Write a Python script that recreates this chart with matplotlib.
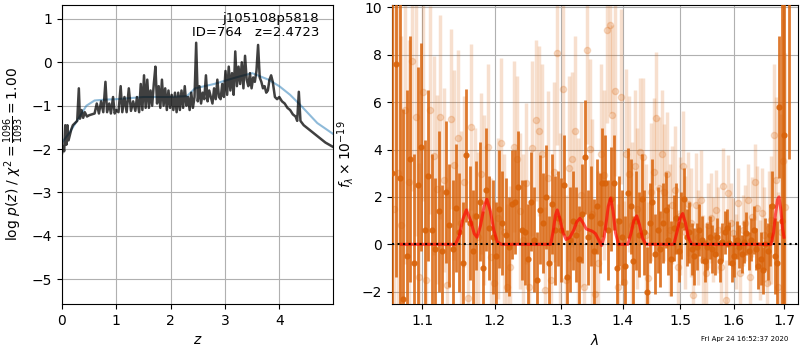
import numpy as np
import matplotlib
matplotlib.use('Agg')
import matplotlib.pyplot as plt
from matplotlib.ticker import NullLocator

# --- redshift fit: log p(z) ---
z_grid = [0.00, 0.02, 0.04, 0.06, 0.08, 0.10, 0.12, 0.14, 0.17, 0.20, 0.24, 0.28, 0.31, 0.33,
          0.36, 0.39, 0.42, 0.46, 0.50, 0.55, 0.60, 0.64, 0.68, 0.72, 0.76, 0.80, 0.83, 0.87,
          0.90, 0.94, 0.97, 1.00, 1.04, 1.08, 1.11, 1.15, 1.19, 1.23, 1.27, 1.31, 1.35, 1.38,
          1.42, 1.45, 1.48, 1.51, 1.54, 1.57, 1.60, 1.63, 1.66, 1.69, 1.72, 1.75, 1.78, 1.81,
          1.84, 1.87, 1.90, 1.93, 1.96, 1.99, 2.02, 2.05, 2.08, 2.11, 2.14, 2.17, 2.20, 2.23,
          2.26, 2.29, 2.32, 2.35, 2.38, 2.41, 2.44, 2.47, 2.50, 2.53, 2.56, 2.59, 2.62, 2.65,
          2.68, 2.71, 2.74, 2.77, 2.80, 2.83, 2.86, 2.89, 2.92, 2.95, 2.98, 3.01, 3.04, 3.07,
          3.10, 3.13, 3.16, 3.19, 3.22, 3.25, 3.28, 3.31, 3.34, 3.37, 3.40, 3.43, 3.46, 3.49,
          3.52, 3.55, 3.58, 3.61, 3.64, 3.67, 3.70, 3.73, 3.76, 3.79, 3.82, 3.85, 3.88, 3.92,
          3.96, 4.00, 4.05, 4.10, 4.15, 4.20, 4.25, 4.30, 4.33, 4.36, 4.39, 4.45, 4.55, 4.65,
          4.75, 4.85, 4.99]
logp = [-2.10, -1.95, -2.05, -1.45, -1.90, -1.45, -1.80, -1.70, -1.55, -1.45, -1.40, -1.35, -0.60, -1.30,
        -1.10, -1.28, -1.15, -1.25, -1.22, -1.20, -1.18, -0.95, -1.18, -0.90, -1.15, -0.45, -1.15, -0.95,
        -1.18, -0.80, -1.18, -1.10, -1.15, -0.55, -1.15, -0.80, -1.15, -0.60, -1.12, -0.90, -1.12, -0.80,
        -1.15, -0.50, -1.10, -0.30, -1.05, -0.40, -1.05, -0.65, -1.00, -0.50, -0.10, -0.95, -0.55, -1.05,
        -0.40, -1.00, -0.60, -1.10, -0.65, -1.05, -0.75, -1.10, -0.70, -1.15, -0.70, -1.10, -0.65, -1.05,
        -0.55, -1.00, -0.80, -1.10, -0.70, -1.05, -0.80, 0.45, -0.90, -0.55, -0.95, -0.70, -0.85, -0.30,
        -0.90, -0.65, -0.80, -0.95, -0.60, -0.85, -0.40, -0.80, -0.85, -0.50, -0.80, -0.20, -0.75, -0.10,
        -0.65, -0.25, -0.75, 0.25, -0.55, -0.10, -0.50, 0.00, -0.60, 0.15, -0.40, -0.55, -0.25, -0.60,
        -0.35, -0.45, -0.20, 0.40, -0.35, -0.45, -0.60, -0.55, -0.70, -0.65, -0.40, -0.30, -0.45, -0.80,
        -0.85, -0.80, -0.90, -0.95, -1.05, -1.10, -1.20, -1.25, -1.35, -0.68, -1.35, -1.45, -1.55, -1.65,
        -1.75, -1.85, -1.95]

z_prior = [0.00, 0.15, 0.30, 0.45, 0.60, 0.80, 1.00, 1.50, 2.00, 2.30, 2.45, 2.80, 3.20, 3.50,
           3.80, 4.00, 4.20, 4.40, 4.70, 4.99]
logp_prior = [-1.85, -1.60, -1.30, -1.00, -0.88, -0.86, -0.85, -0.80, -0.80, -0.78, -0.60, -0.50,
              -0.35, -0.25, -0.40, -0.55, -0.75, -1.00, -1.40, -1.65]

# --- 1D spectrum (flux in 1e-19 units), two extractions ---
wave_start, wave_step = 1.061, 0.0047
flux_a = [3.0, 7.6, 2.8, -2.3, -0.5, 3.6, -0.8, 2.5, 4.1, 0.6,
          2.9, 0.6, -0.2, 1.4, -0.3, 2.2, 0.8, -0.2, 1.55, 0.5,
          -0.8, 3.75, 0.9, -0.3, 1.2, 1.8, -1.0, 2.3, 0.7, 0.3,
          -0.5, 1.5, 0.9, 0.4, -0.1, 1.7, 1.8, 2.4, 0.6, 0.5,
          -0.6, 1.8, 0.2, -1.5, 1.45, 0.9, 2.0, -0.8, 1.7, 0.6,
          1.1, 0.6, 2.5, -1.4, 0.2, 1.0, 0.4, -0.6, 1.3, 3.7,
          0.3, 1.2, -0.3, 1.6, 0.9, 2.6, 2.6, 0.6, 1.9, 2.6,
          -1.0, 1.0, 0.3, -0.9, 2.15, 1.6, -0.7, 1.0, 0.4, 1.9,
          0.5, -2.0, 0.9, 1.8, -0.4, 0.6, -0.2, 0.9, 1.45, 0.2,
          -0.6, 0.7, 1.1, -0.3, 0.8, 1.9, 0.3, 0.5, -0.2, -0.5,
          -0.1, 0.6, 0.2, -0.7, -0.1, 0.3, -0.2, -0.4, 0.3, -0.7,
          0.1, 0.5, 0.7, 0.04, -0.8, -0.5, 0.2, -0.1, -0.4, 0.1,
          0.46, -0.3, 0.2, 0.6, -0.2, -0.9, -0.6, -1.1, 0.0, -0.3,
          0.4, 1.6, -0.5, -0.8, 5.8, 1.0, 4.6, np.nan, 14.5]
err_a = [9.0, 9.0, 8.0, 8.0, 7.0, 5.2, 4.6, 5.0, 4.4, 3.8,
         3.6, 3.2, 3.0, 3.4, 2.8, 3.0, 2.6, 2.9, 2.7, 2.5,
         2.6, 2.8, 2.4, 2.6, 2.3, 2.5, 2.4, 2.6, 2.2, 2.4,
         2.3, 2.5, 2.2, 2.4, 2.1, 2.3, 2.2, 2.4, 2.1, 2.2,
         2.3, 2.1, 2.2, 2.0, 2.3, 2.1, 2.2, 2.0, 2.1, 2.3,
         2.0, 2.2, 2.1, 2.0, 2.2, 2.1, 2.0, 2.2, 2.1, 2.4,
         2.0, 2.1, 2.2, 2.0, 2.1, 2.3, 2.0, 2.1, 2.2, 2.0,
         2.1, 1.9, 2.0, 2.1, 1.9, 2.0, 1.9, 2.1, 1.8, 1.9,
         1.8, 1.9, 1.7, 1.8, 1.7, 1.8, 1.6, 1.7, 1.6, 1.5,
         1.6, 1.4, 1.5, 1.3, 1.4, 1.3, 1.2, 1.3, 1.1, 1.2,
         1.0, 1.1, 1.0, 0.9, 1.0, 0.9, 1.0, 0.9, 0.8, 0.9,
         0.8, 0.9, 0.8, 0.9, 0.8, 0.9, 0.8, 0.9, 0.8, 0.9,
         0.9, 0.8, 0.9, 1.0, 0.9, 1.0, 1.1, 1.0, 1.1, 1.2,
         1.3, 1.5, 1.6, 1.8, 3.0, 12.0, 9.0, np.nan, 10.9]

flux_b = [1.5, 3.0, 0.8, 5.67, 2.64, 7.73, 5.36, -1.37, 6.44, -1.5,
          5.67, 3.73, 2.32, 5.36, 2.71, -1.7, 5.29, 3.35, 4.5, 0.9,
          2.64, -2.25, 4.96, 1.2, 0.3, 2.97, 1.87, 4.12, -0.52, -1.65,
          1.1, 4.26, 0.5, -1.79, -0.94, 4.12, 3.59, 1.4, 0.2, 2.57,
          -1.79, 4.05, 5.24, 4.78, 3.81, -1.93, 2.78, -1.5, 3.06, 8.08,
          1.0, 6.54, -1.5, 3.2, 3.59, 4.78, 0.7, 2.1, -1.8, 8.22,
          4.02, 1.3, -2.1, -0.8, 3.81, 2.92, 9.04, 9.25, 5.46, 6.48,
          -1.79, 6.23, -1.57, 3.81, 2.97, 0.8, 3.32, 1.5, 3.91, 3.7,
          0.4, -1.43, 2.2, 3.06, 5.32, 2.36, 3.81, 2.19, 2.97, 0.6,
          1.66, 2.29, -0.94, 1.2, 3.32, 0.5, 1.7, 0.9, -2.14, 1.66,
          0.3, 1.87, -0.66, -1.22, 0.8, 1.1, 0.2, 1.45, 0.6, -0.94,
          2.46, -2.35, 2.15, 0.9, 0.46, -0.3, 1.73, -1.22, 0.6, 0.9,
          1.87, -1.36, 1.16, 2.64, 1.52, -0.66, 1.31, 0.4, -1.65, 0.7,
          1.03, 4.61, 2.71, -1.79, 0.5, 3.5, 1.59]
err_b = [9.0, 8.5, 8.0, 6.5, 6.0, 5.5, 5.0, 4.8, 4.6, 4.5,
         4.4, 4.2, 4.0, 4.3, 3.9, 4.1, 3.8, 4.0, 3.7, 3.9,
         3.6, 3.8, 3.5, 3.7, 3.6, 3.4, 3.6, 3.5, 3.3, 3.5,
         3.4, 3.6, 3.3, 3.5, 3.4, 3.6, 3.5, 3.3, 3.6, 3.4,
         3.5, 3.7, 3.4, 3.6, 3.8, 3.5, 3.7, 3.6, 3.8, 3.9,
         3.7, 3.8, 3.6, 3.9, 3.7, 4.0, 3.8, 3.9, 3.7, 4.0,
         3.8, 4.0, 3.7, 3.9, 3.8, 3.6, 3.9, 3.7, 3.8, 3.6,
         3.5, 3.7, 3.4, 3.6, 3.3, 3.5, 3.2, 3.4, 3.1, 3.3,
         3.0, 3.2, 2.9, 3.1, 2.8, 3.0, 2.7, 2.9, 2.6, 2.8,
         2.5, 2.7, 2.4, 2.5, 2.3, 2.4, 2.2, 2.3, 2.1, 2.2,
         2.0, 2.1, 1.9, 2.0, 1.8, 1.9, 1.8, 1.7, 1.8, 1.7,
         1.6, 1.7, 1.6, 1.7, 1.5, 1.6, 1.5, 1.6, 1.5, 1.6,
         1.5, 1.6, 1.7, 1.6, 1.8, 1.7, 1.9, 2.0, 2.2, 2.4,
         2.7, 3.0, 3.5, 4.0, 5.0, 6.0, 6.5]

model_wave = [1.073, 1.145, 1.150, 1.155, 1.160, 1.166, 1.171, 1.175, 1.180, 1.185, 1.189,
              1.194, 1.199, 1.204, 1.210, 1.284, 1.288, 1.291, 1.294, 1.298, 1.303, 1.308,
              1.314, 1.320, 1.325, 1.330, 1.335, 1.340, 1.345, 1.350, 1.355, 1.360, 1.365,
              1.369, 1.373, 1.376, 1.380, 1.384, 1.388, 1.393, 1.409, 1.414, 1.419, 1.424,
              1.429, 1.434, 1.440, 1.489, 1.495, 1.500, 1.505, 1.510, 1.515, 1.521, 1.674,
              1.679, 1.683, 1.687, 1.690, 1.694, 1.697, 1.700]
model_flux = [0.0, 0.0, 0.35, 1.05, 1.45, 1.0, 0.45, 0.3, 0.8, 1.6, 1.9,
              1.4, 0.6, 0.1, 0.0, 0.0, 0.6, 1.2, 1.45, 1.1, 0.5, 0.2,
              0.3, 0.6, 0.95, 1.1, 0.9, 0.65, 0.6, 0.55, 0.45, 0.2, -0.05,
              0.3, 1.0, 1.6, 1.95, 1.4, 0.5, 0.0, 0.0, 0.45, 1.0, 1.2,
              0.8, 0.25, 0.0, 0.0, 0.55, 1.1, 1.3, 0.9, 0.3, 0.0, 0.0,
              0.5, 1.3, 1.9, 2.0, 1.4, 0.7, 0.3]

lam_ticks = [1.1, 1.2, 1.3, 1.4, 1.5, 1.6, 1.7]
spec_color = '#d9630a'

fig = plt.figure(figsize=(8, 3.5), dpi=100)
ax1 = fig.add_axes([0.0775, 0.1314, 0.3388, 0.8543])
ax2 = fig.add_axes([0.49, 0.1314, 0.5075, 0.8543])

# p(z) panel
ax1.plot(z_prior, logp_prior, color='tab:blue', alpha=0.5, lw=1.5)
ax1.plot(z_grid, logp, color='k', alpha=0.75, lw=1.8)
ax1.set_xlim(0, 4.99)
ax1.set_ylim(-5.57, 1.32)
ax1.set_xticks([0, 1, 2, 3, 4])
ax1.set_yticks([-5, -4, -3, -2, -1, 0, 1])
ax1.set_xlabel('$z$')
ax1.set_ylabel(r'log $p(z)$ / $\chi^2=\frac{1096}{1093}=1.00$')
ax1.grid(True)
ax1.text(0.948, 0.975, 'j105108p5818\nID=764   z=2.4723', transform=ax1.transAxes,
         ha='right', va='top', fontsize=9.5, linespacing=1.1)

# spectrum panel
wave_a = wave_start + wave_step * np.arange(len(flux_a))
wave_b = wave_start + wave_step / 2 + wave_step * np.arange(len(flux_b))
ax2.errorbar(wave_b, flux_b, yerr=err_b, marker='o', ms=4.5, linestyle='None',
             color=spec_color, alpha=0.2, elinewidth=2.5, zorder=2)
ax2.errorbar(wave_a, flux_a, yerr=err_a, marker='o', ms=3.5, linestyle='None',
             color=spec_color, alpha=0.85, elinewidth=2, zorder=3)
ax2.plot(model_wave, model_flux, color='red', alpha=0.65, lw=2.2, zorder=4)
ax2.axhline(0, color='k', linestyle=':', lw=1.5, zorder=5)

ax2.set_xscale('log')
ax2.set_xlim(1.0607, 1.729)
ax2.set_ylim(-2.52, 10.1)
ax2.xaxis.set_minor_locator(NullLocator())
ax2.set_xticks(lam_ticks)
ax2.set_xticklabels([f'{t:.1f}' for t in lam_ticks])
ax2.set_yticks([-2, 0, 2, 4, 6, 8, 10])
ax2.set_xlabel(r'$\lambda$')
ax2.set_ylabel(r'$f_\lambda\times10^{-19}$')
ax2.grid(True)

fig.text(0.985, 0.022, 'Fri Apr 24 16:52:37 2020', ha='right', va='bottom', fontsize=5)

fig.savefig('out.png', dpi=100)
